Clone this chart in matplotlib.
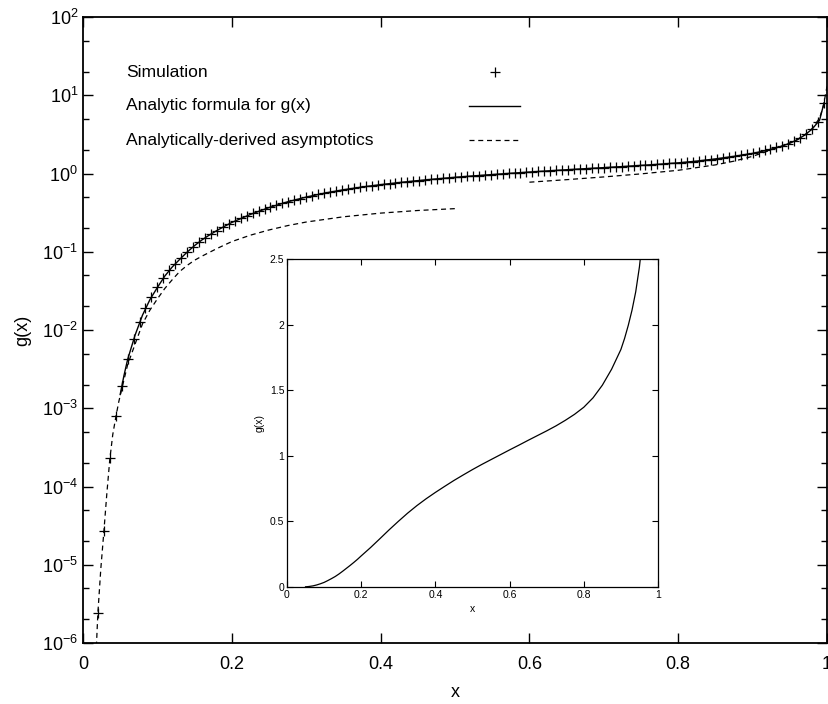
import numpy as np
import matplotlib
matplotlib.use("Agg")
import matplotlib.pyplot as plt
from matplotlib.ticker import LogLocator, LogFormatterMathtext, NullFormatter, MultipleLocator

plt.rcParams['font.family'] = ['Liberation Sans', 'DejaVu Sans']
plt.rcParams['mathtext.fontset'] = 'custom'
plt.rcParams['mathtext.rm'] = 'Liberation Sans'
plt.rcParams['mathtext.it'] = 'Liberation Sans'

# Simulation points
sim_x = [0.020, 0.028, 0.036, 0.044, 0.052, 0.060, 0.068, 0.076, 0.084, 0.092,
         0.100, 0.108, 0.116, 0.124, 0.132, 0.140, 0.148, 0.156, 0.164, 0.172,
         0.180, 0.188, 0.196, 0.204, 0.212, 0.220, 0.228, 0.236, 0.244, 0.252,
         0.260, 0.268, 0.276, 0.284, 0.292, 0.300, 0.308, 0.316, 0.324, 0.332,
         0.340, 0.348, 0.356, 0.364, 0.372, 0.380, 0.388, 0.396, 0.404, 0.412,
         0.420, 0.428, 0.436, 0.444, 0.452, 0.460, 0.468, 0.476, 0.484, 0.492,
         0.500, 0.508, 0.516, 0.524, 0.532, 0.540, 0.548, 0.556, 0.564, 0.572,
         0.580, 0.588, 0.596, 0.604, 0.612, 0.620, 0.628, 0.636, 0.644, 0.652,
         0.660, 0.668, 0.676, 0.684, 0.692, 0.700, 0.708, 0.716, 0.724, 0.732,
         0.740, 0.748, 0.756, 0.764, 0.772, 0.780, 0.788, 0.796, 0.804, 0.812,
         0.820, 0.828, 0.836, 0.844, 0.852, 0.860, 0.868, 0.876, 0.884, 0.892,
         0.900, 0.908, 0.916, 0.924, 0.932, 0.940, 0.948, 0.956, 0.964, 0.972,
         0.980, 0.988, 0.996]
sim_g = [2.4e-6, 2.7e-5, 2.3e-4, 7.9e-4, 1.9e-3, 4.3e-3, 7.6e-3, 1.25e-2, 1.9e-2, 2.65e-2,
         3.55e-2, 4.6e-2, 5.8e-2, 7.0e-2, 8.3e-2, 0.099, 0.116, 0.133, 0.151, 0.169,
         0.187, 0.206, 0.226, 0.247, 0.268, 0.289, 0.310, 0.331, 0.352, 0.373,
         0.394, 0.416, 0.437, 0.458, 0.479, 0.500, 0.520, 0.540, 0.560, 0.579,
         0.598, 0.617, 0.634, 0.651, 0.667, 0.683, 0.698, 0.713, 0.728, 0.743,
         0.757, 0.772, 0.786, 0.800, 0.814, 0.827, 0.840, 0.854, 0.867, 0.880,
         0.893, 0.906, 0.918, 0.930, 0.943, 0.955, 0.967, 0.979, 0.991, 1.003,
         1.015, 1.026, 1.038, 1.050, 1.062, 1.074, 1.085, 1.097, 1.109, 1.121,
         1.132, 1.144, 1.155, 1.167, 1.178, 1.190, 1.202, 1.215, 1.227, 1.240,
         1.253, 1.267, 1.281, 1.296, 1.311, 1.327, 1.344, 1.362, 1.381, 1.401,
         1.423, 1.447, 1.474, 1.503, 1.536, 1.572, 1.612, 1.656, 1.705, 1.760,
         1.820, 1.89, 1.97, 2.06, 2.16, 2.27, 2.41, 2.62, 2.88, 3.22,
         3.68, 4.60, 8.0]

# Analytic formula for g(x)
ana_x = [0.05, 0.055, 0.06, 0.07, 0.08, 0.09, 0.10, 0.11, 0.12, 0.13,
         0.14, 0.15, 0.16, 0.17, 0.18, 0.19, 0.20, 0.225, 0.25, 0.275,
         0.30, 0.325, 0.35, 0.375, 0.40, 0.425, 0.45, 0.475, 0.50, 0.525,
         0.55, 0.575, 0.60, 0.625, 0.65, 0.675, 0.70, 0.725, 0.75, 0.775,
         0.80, 0.825, 0.85, 0.875, 0.90, 0.91, 0.92, 0.93, 0.94, 0.95,
         0.96, 0.97, 0.98, 0.99, 0.996]
ana_g = [1.5e-3, 2.6e-3, 4.2e-3, 8.6e-3, 1.55e-2, 2.45e-2, 3.5e-2, 4.9e-2, 6.4e-2, 8.0e-2,
         0.099, 0.120, 0.142, 0.164, 0.187, 0.211, 0.237, 0.300, 0.367, 0.435,
         0.500, 0.5625, 0.620, 0.6725, 0.721, 0.767, 0.812, 0.854, 0.895, 0.934,
         0.971, 1.008, 1.045, 1.081, 1.118, 1.154, 1.190, 1.228, 1.270, 1.316,
         1.370, 1.442, 1.538, 1.660, 1.810, 1.895, 1.995, 2.11, 2.25, 2.44,
         2.70, 3.10, 3.70, 4.80, 8.0]

# Asymptotics: small-x branch and near-1 branch
asym_lo_x = [0.018, 0.020, 0.024, 0.028, 0.032, 0.036, 0.040, 0.044, 0.048, 0.052,
             0.06, 0.07, 0.08, 0.09, 0.10, 0.11, 0.12, 0.13, 0.14, 0.15,
             0.16, 0.18, 0.20, 0.225, 0.25, 0.275, 0.30, 0.35, 0.40, 0.45, 0.50]
asym_lo_g = [9.0e-7, 2.4e-6, 9.0e-6, 2.6e-5, 8.0e-5, 2.2e-4, 4.6e-4, 7.6e-4, 1.2e-3, 1.75e-3,
             3.6e-3, 6.6e-3, 1.2e-2, 1.8e-2, 2.5e-2, 3.4e-2, 4.4e-2, 5.6e-2, 6.7e-2, 7.8e-2,
             8.8e-2, 0.110, 0.135, 0.163, 0.190, 0.216, 0.240, 0.280, 0.312, 0.337, 0.356]
asym_hi_x = [0.60, 0.65, 0.70, 0.75, 0.80, 0.85, 0.875, 0.90, 0.92, 0.94,
             0.96, 0.97, 0.98, 0.99, 0.995, 1.0]
asym_hi_g = [0.775, 0.835, 0.905, 0.99, 1.10, 1.29, 1.44, 1.66, 1.93, 2.25,
             2.72, 3.1, 3.75, 5.1, 7.2, 13.0]

labels = ['Simulation', 'Analytic formula for g(x)', 'Analytically-derived asymptotics']

fig = plt.figure(figsize=(8.29, 7.04), dpi=100)
ax = fig.add_axes([0.1001, 0.0866, 0.8975, 0.8892])

ax.plot(ana_x, ana_g, color='black', lw=1.0)
ax.plot(asym_lo_x, asym_lo_g, color='black', lw=0.9, dashes=(4, 3))
ax.plot(asym_hi_x, asym_hi_g, color='black', lw=0.9, dashes=(4, 3))
ax.plot(sim_x, sim_g, ls='none', marker='+', color='black', ms=7, mew=0.9)

ax.set_yscale('log')
ax.set_xlim(0, 1)
ax.set_ylim(1e-6, 1e2)
ax.xaxis.set_major_locator(MultipleLocator(0.2))
ax.xaxis.set_major_formatter(plt.FuncFormatter(lambda v, p: '%g' % round(v, 2)))
ax.yaxis.set_major_locator(LogLocator(base=10, numticks=20))
ax.yaxis.set_major_formatter(LogFormatterMathtext())
ax.yaxis.set_minor_locator(LogLocator(base=10, subs=(2.0, 5.0), numticks=20))
ax.yaxis.set_minor_formatter(NullFormatter())
ax.tick_params(which='both', direction='in', top=True, right=True, labelsize=13)
ax.tick_params(which='major', length=7, width=1.0)
ax.tick_params(which='minor', length=4, width=1.0)
ax.tick_params(axis='x', pad=9)
for s in ax.spines.values():
    s.set_linewidth(1.3)
ax.set_xlabel('x', fontsize=13, labelpad=8)
ax.set_ylabel('g(x)', fontsize=13, labelpad=8)

# key in gnuplot style: left-justified text, sample on the right
rows_y = [0.912, 0.858, 0.8035]
for lab, yy in zip(labels, rows_y):
    ax.text(0.0577, yy, lab, transform=ax.transAxes, fontsize=12.6, va='center', ha='left')
ax.plot([0.554], [rows_y[0]], transform=ax.transAxes, ls='none', marker='+',
        color='black', ms=7, mew=0.9)
ax.plot([0.519, 0.587], [rows_y[1]] * 2, transform=ax.transAxes, color='black', lw=1.0)
ax.plot([0.519, 0.587], [rows_y[2]] * 2, transform=ax.transAxes, color='black', lw=0.9,
        dashes=(4, 3))

# inset, linear scale
ins = fig.add_axes([0.3462, 0.1662, 0.4475, 0.4659])
ins.plot(ana_x, ana_g, color='black', lw=0.9)
ins.set_xlim(0, 1)
ins.set_ylim(0, 2.5)
ins.xaxis.set_major_locator(MultipleLocator(0.2))
ins.yaxis.set_major_locator(MultipleLocator(0.5))
ins.xaxis.set_major_formatter(plt.FuncFormatter(lambda v, p: '%g' % round(v, 2)))
ins.yaxis.set_major_formatter(plt.FuncFormatter(lambda v, p: '%g' % round(v, 2)))
ins.tick_params(direction='in', top=True, right=True, labelsize=7.5, length=4, pad=2)
for s in ins.spines.values():
    s.set_linewidth(0.9)
ins.set_xlabel('x', fontsize=7.5, labelpad=3)
ins.set_ylabel('g(x)', fontsize=7.5, labelpad=4)

fig.savefig('out.png', dpi=100)
